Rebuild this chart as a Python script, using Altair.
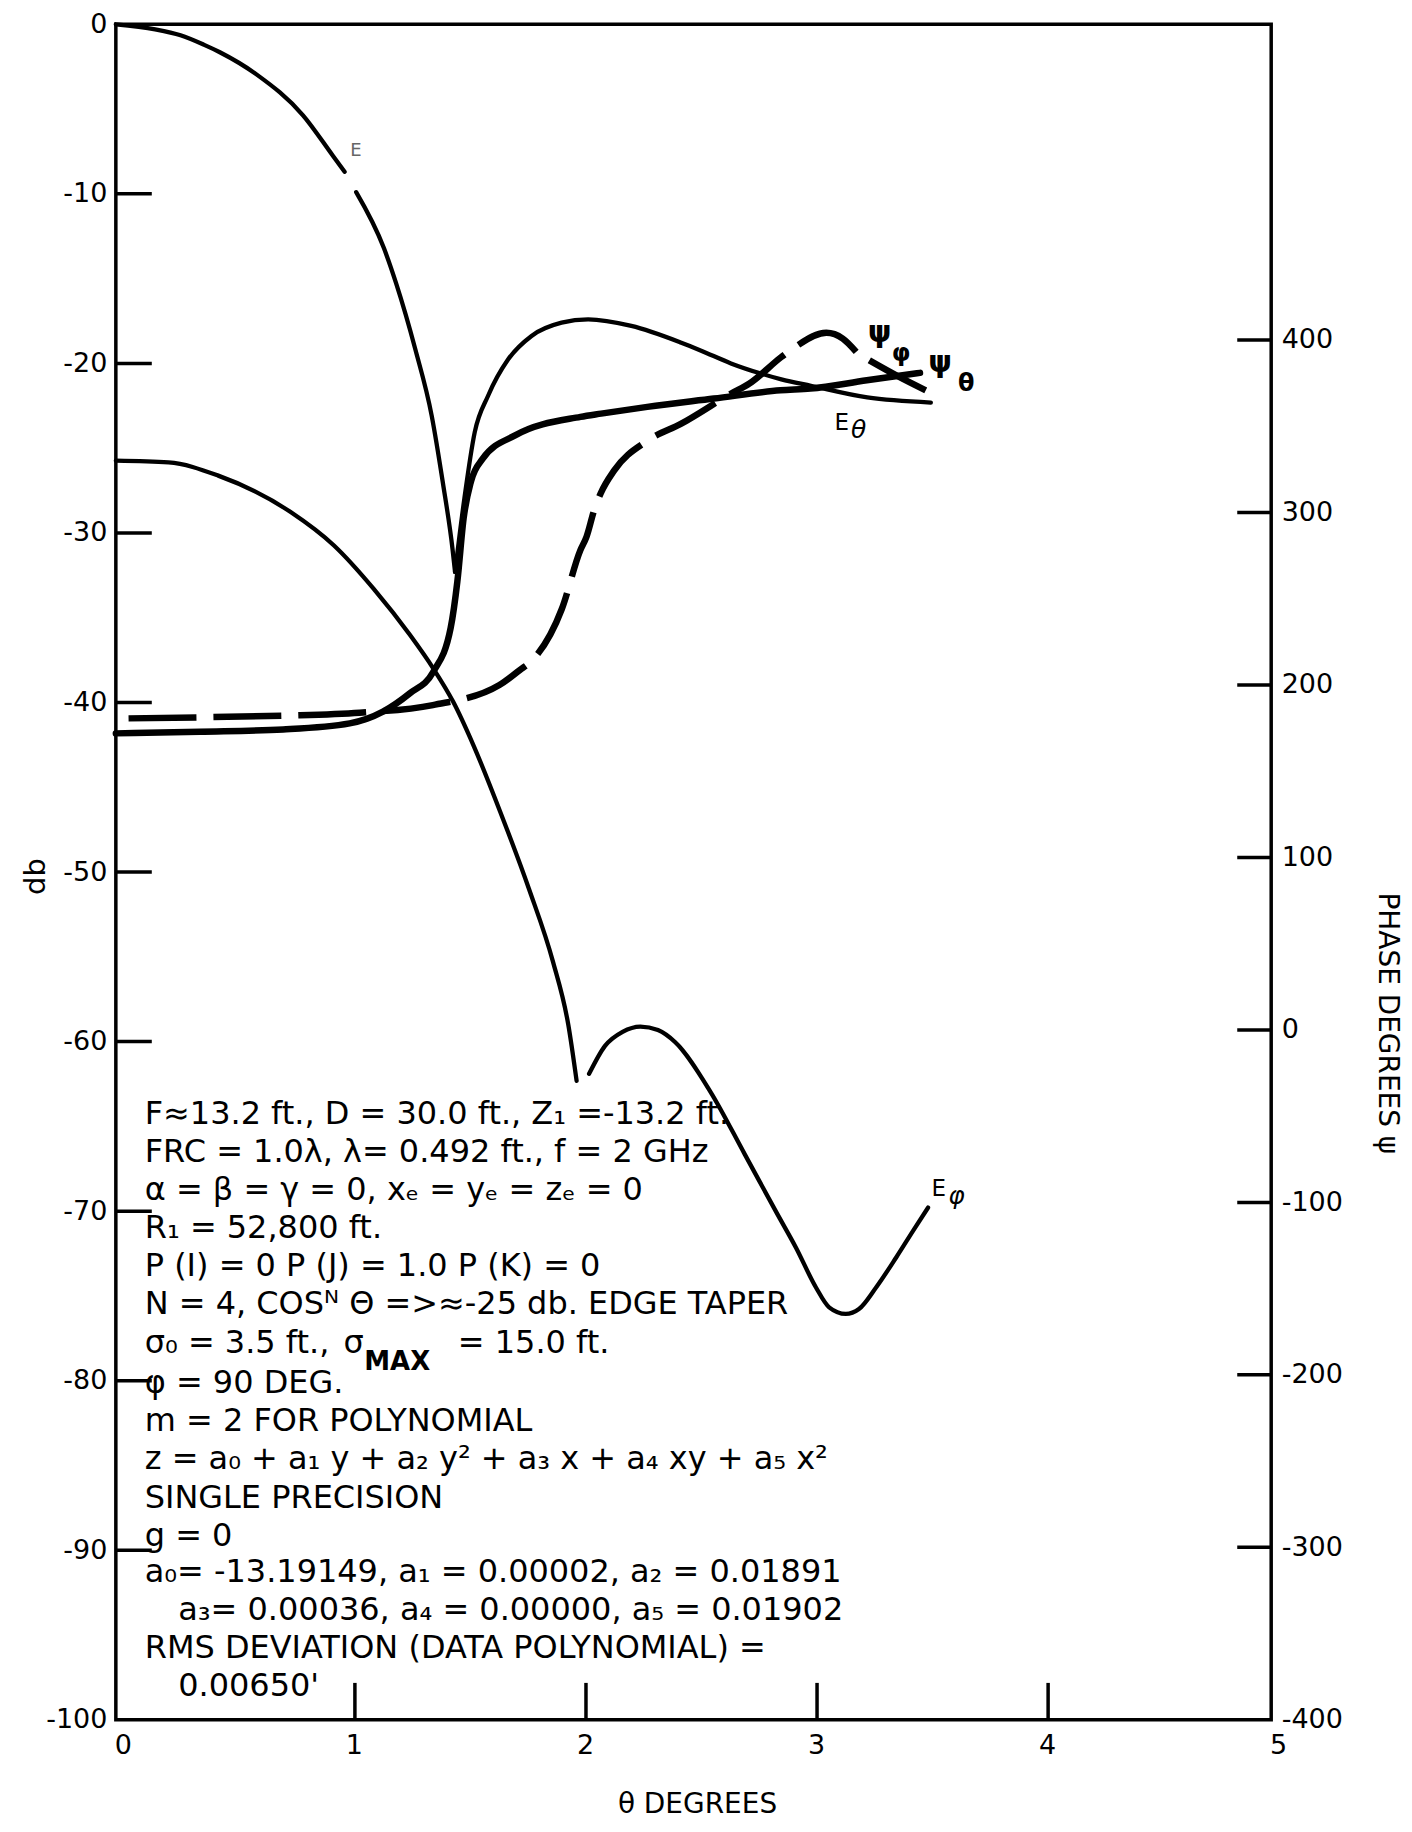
import altair as alt
import pandas as pd

W, H = 1157, 1698
FONT = "DejaVu Sans"

# ---------------- curve data (theta in degrees) ----------------
# E_theta, amplitude in db (three pieces: gap at label, cusp at null)
ETH1_T = [0, 0.17, 0.28, 0.38, 0.45, 0.61, 0.81, 0.94, 0.99]
ETH1_DB = [0, -0.3, -0.65, -1.2, -1.65, -2.97, -5.37, -7.77, -8.7]
ETH2_T = [1.04, 1.16, 1.212, 1.296, 1.367, 1.415, 1.457, 1.468]
ETH2_DB = [-9.9, -13.2, -15.24, -19.17, -23.09, -27.02, -30.94, -32.3]
ETH3_T = [1.468, 1.508, 1.553, 1.611, 1.698, 1.799, 1.929, 2.044, 2.231, 2.447,
          2.533, 2.662, 2.792, 2.88, 3.008, 3.252, 3.527]
ETH3_DB = [-32.3, -28.0, -24.07, -21.91, -19.76, -18.38, -17.6, -17.4, -17.79, -18.78,
           -19.25, -20.0, -20.6, -20.94, -21.32, -22.01, -22.31]

# E_phi, amplitude in db (two lobes)
EPH1_T = [0, 0.228, 0.443, 0.758, 0.944, 1.116, 1.274, 1.374, 1.46, 1.55, 1.665,
          1.788, 1.892, 1.958, 1.994]
EPH1_DB = [-25.74, -25.84, -26.62, -28.78, -30.74, -33.3, -36.04, -38.0, -39.96, -42.6,
           -46.5, -51.0, -55.3, -59.0, -62.31]
EPH2_T = [2.048, 2.117, 2.193, 2.27, 2.346, 2.421, 2.572, 2.722, 2.86, 2.943, 3.03,
          3.087, 3.159, 3.216, 3.29, 3.377, 3.45, 3.515]
EPH2_DB = [-61.9, -60.25, -59.42, -59.11, -59.32, -60.04, -62.93, -66.65, -70.1, -72.14,
           -74.5, -75.67, -76.06, -75.77, -74.5, -72.73, -71.16, -69.79]

# psi_theta, phase in degrees (solid)
PTH_T = [0, 0.364, 0.724, 1.012, 1.156, 1.272, 1.374, 1.449, 1.478, 1.505, 1.537,
         1.587, 1.73, 2.011, 2.1, 2.3, 2.588, 2.876, 3.006, 3.25, 3.48]
PTH_PH = [171.9, 172.9, 174.2, 177.7, 184.5, 195.1, 207.6, 233.0, 260.0, 296.5, 318.0,
          331.0, 344.8, 355.4, 357.3, 361.2, 366.0, 370.8, 371.8, 376.6, 380.9]

# psi_phi, phase in degrees (dashed)
PPH1_T = [0.055, 0.364, 0.724, 1.055, 1.372, 1.66, 1.748, 1.803, 1.93, 2.01, 2.037,
          2.07, 2.098, 2.157, 2.303, 2.447, 2.663, 2.742, 2.88, 2.93, 3.075, 3.146, 3.204]
PPH1_PH = [180.6, 181.2, 182.2, 183.9, 188.3, 199.9, 208.6, 214.4, 244.0, 278.0, 285.9,
           301.3, 311.0, 324.4, 341.8, 351.5, 368.9, 374.7, 390.1, 395.0, 404.1, 400.8, 393.1]
PPH2_T = [3.261, 3.39, 3.505]
PPH2_PH = [388.2, 378.6, 370.8]

# ---------------- axes ----------------
X_TICKS = [0, 1, 2, 3, 4, 5]
X_INNER = [1, 2, 3, 4]
DB_TICKS = list(range(-100, 1, 10))
DB_INNER = list(range(-90, 0, 10))
PH_TICKS = list(range(-400, 401, 100))
PH_INNER = list(range(-300, 401, 100))

# ---------------- texts ----------------
BLOCK_LINES = [
    "F≈13.2 ft.,  D = 30.0 ft.,  Z₁ =-13.2 ft.",
    "FRC = 1.0λ,  λ= 0.492 ft.,  f = 2 GHz",
    "α = β = γ = 0,  xₑ = yₑ = zₑ = 0",
    "R₁ = 52,800 ft.",
    "P (I) = 0   P (J) = 1.0   P (K) = 0",
    "N = 4, COSᴺ Θ =>≈-25 db. EDGE TAPER",
    "σ₀ = 3.5 ft.,",
    "φ = 90 DEG.",
    "m = 2 FOR POLYNOMIAL",
    "z = a₀ + a₁ y + a₂ y² + a₃ x + a₄ xy + a₅ x²",
    "SINGLE PRECISION",
    "g = 0",
    "a₀= -13.19149,  a₁ = 0.00002,  a₂ = 0.01891",
    "a₃= 0.00036,  a₄ = 0.00000,  a₅ = 0.01902",
    "RMS DEVIATION (DATA POLYNOMIAL) =",
    "0.00650'",
]
BLOCK_X = [0.125, 0.125, 0.125, 0.125, 0.125, 0.125, 0.125, 0.125, 0.125, 0.125,
           0.125, 0.125, 0.125, 0.27, 0.125, 0.27]
BLOCK_DB = [-64.25, -66.5, -68.75, -70.98, -73.26, -75.5, -77.75, -80.16, -82.4, -84.64,
            -86.9, -89.17, -91.28, -93.5, -95.76, -98.03]

EXTRA_TEXT = ["σ", "= 15.0 ft."]
EXTRA_X = [0.985, 1.48]
EXTRA_DB = [-77.75, -77.75]
SUB_TEXT = ["MAX"]
SUB_X = [1.075]
SUB_DB = [-78.9]

E_TEXT = ["E", "E"]
E_X = [3.142, 3.561]
E_DB = [-23.54, -68.69]
ITAL_TEXT = ["θ", "φ"]
ITAL_X = [3.215, 3.638]
ITAL_DB = [-23.9, -69.1]
PSI_TEXT = ["ψ", "ψ"]
PSI_X = [3.306, 3.567]
PSI_DB = [-18.19, -19.95]
PSUB_TEXT = ["φ", "θ"]
PSUB_X = [3.398, 3.68]
PSUB_DB = [-19.42, -21.19]
FAINT_TEXT = ["E"]
FAINT_X = [1.039]
FAINT_DB = [-7.47]


def rows(series, seg, ts, vs, key):
    return [{"series": series, "seg": seg, "theta": t, key: v} for t, v in zip(ts, vs)]


e_df = pd.DataFrame(
    rows("Eθ", "a", ETH1_T, ETH1_DB, "db") + rows("Eθ", "b", ETH2_T, ETH2_DB, "db")
    + rows("Eθ", "c", ETH3_T, ETH3_DB, "db") + rows("Eφ", "d", EPH1_T, EPH1_DB, "db")
    + rows("Eφ", "e", EPH2_T, EPH2_DB, "db"))
pth_df = pd.DataFrame(rows("ψθ", "f", PTH_T, PTH_PH, "phase"))
pph_df = pd.DataFrame(rows("ψφ", "g", PPH1_T, PPH1_PH, "phase") + rows("ψφ", "h", PPH2_T, PPH2_PH, "phase"))

x_axis = alt.Axis(values=X_TICKS, title="θ DEGREES", labelPadding=13, labelFlush=False,
                  labelOffset=7, labelBaseline="top", titleX=582, titleY=85,
                  titleBaseline="middle", titleAlign="center", titleFontSize=28,
                  labelExpr="toString(datum.value)")
X = alt.X("theta:Q", scale=alt.Scale(domain=[0, 5], nice=False, zero=False), axis=x_axis)

db_axis = alt.Axis(orient="left", values=DB_TICKS, title="db", labelPadding=9,
                   labelFlush=False, titleX=-80, titleY=853, titleAngle=270,
                   titleBaseline="middle", titleAlign="center", titleFontSize=29,
                   labelExpr="toString(datum.value)")
YDB = alt.Y("db:Q", scale=alt.Scale(domain=[-100, 0], nice=False, zero=False), axis=db_axis)

ph_axis = alt.Axis(orient="right", values=PH_TICKS, title="PHASE DEGREES ψ", labelPadding=10,
                   labelFlush=False, titleX=115, titleY=1000, titleAngle=90,
                   titleBaseline="middle", titleAlign="center", titleFontSize=28,
                   labelExpr="toString(datum.value)")
YPH = alt.Y("phase:Q", scale=alt.Scale(domain=[-400, 583], nice=False, zero=False), axis=ph_axis)

e_lines = alt.Chart(e_df).mark_line(color="black", strokeWidth=4.3, interpolate="monotone",
                                    strokeCap="round").encode(x=X, y=YDB, detail="seg:N")

left_ticks = alt.Chart(pd.DataFrame({"db": DB_INNER})).mark_rule(color="black", strokeWidth=3.5).encode(
    y=YDB, x=alt.value(0), x2=alt.value(36))
bottom_ticks = alt.Chart(pd.DataFrame({"theta": X_INNER})).mark_rule(
    color="black", strokeWidth=3.5, xOffset=8).encode(x=X, y=alt.value(H - 37), y2=alt.value(H))


def text_layer(xs, dbs, texts, size, **kw):
    df = pd.DataFrame({"theta": xs, "db": dbs, "t": texts})
    return alt.Chart(df).mark_text(font=FONT, fontSize=size, color=kw.pop("color", "black"),
                                   **kw).encode(x=X, y=YDB, text="t:N")


block = text_layer(BLOCK_X, BLOCK_DB, BLOCK_LINES, 32, align="left", baseline="middle")
extra = text_layer(EXTRA_X, EXTRA_DB, EXTRA_TEXT, 32, align="left", baseline="middle")
sub = text_layer(SUB_X, SUB_DB, SUB_TEXT, 26, align="left", baseline="middle", fontWeight="bold")
e_lbl = text_layer(E_X, E_DB, E_TEXT, 23, align="center", baseline="middle")
ital = text_layer(ITAL_X, ITAL_DB, ITAL_TEXT, 25, align="center", baseline="middle", fontStyle="italic")
psi = text_layer(PSI_X, PSI_DB, PSI_TEXT, 30, align="center", baseline="middle", fontWeight="bold")
psub = text_layer(PSUB_X, PSUB_DB, PSUB_TEXT, 24, align="center", baseline="middle", fontWeight="bold")
faint = text_layer(FAINT_X, FAINT_DB, FAINT_TEXT, 18, align="center", baseline="middle", color="#666666")

left_group = alt.layer(e_lines, left_ticks, bottom_ticks, block, extra, sub, e_lbl, ital, psi, psub, faint)

pth_line = alt.Chart(pth_df).mark_line(color="black", strokeWidth=6.5, interpolate="monotone",
                                       strokeCap="round").encode(x=X, y=YPH, detail="seg:N")
pph_line = alt.Chart(pph_df).mark_line(color="black", strokeWidth=6.5, interpolate="monotone",
                                       strokeDash=[68, 17]).encode(x=X, y=YPH, detail="seg:N")
right_ticks = alt.Chart(pd.DataFrame({"phase": PH_INNER})).mark_rule(color="black", strokeWidth=3.5).encode(
    y=YPH, x=alt.value(W - 34), x2=alt.value(W))

right_group = alt.layer(pth_line, pph_line, right_ticks)

chart = alt.layer(left_group, right_group).resolve_scale(y="independent").properties(
    width=W, height=H,
    padding={"left": 108, "top": 15, "right": 133, "bottom": 100},
    autosize=alt.AutoSizeParams(type="none"),
    background="white",
).configure_view(stroke="black", strokeWidth=3.5).configure_axis(
    domain=False, ticks=False, grid=False,
    labelFont=FONT, labelFontSize=27, labelColor="black",
    titleFont=FONT, titleFontWeight="normal", titleColor="black",
)

chart.save("out.html", embed_options={"renderer": "svg", "actions": False})
